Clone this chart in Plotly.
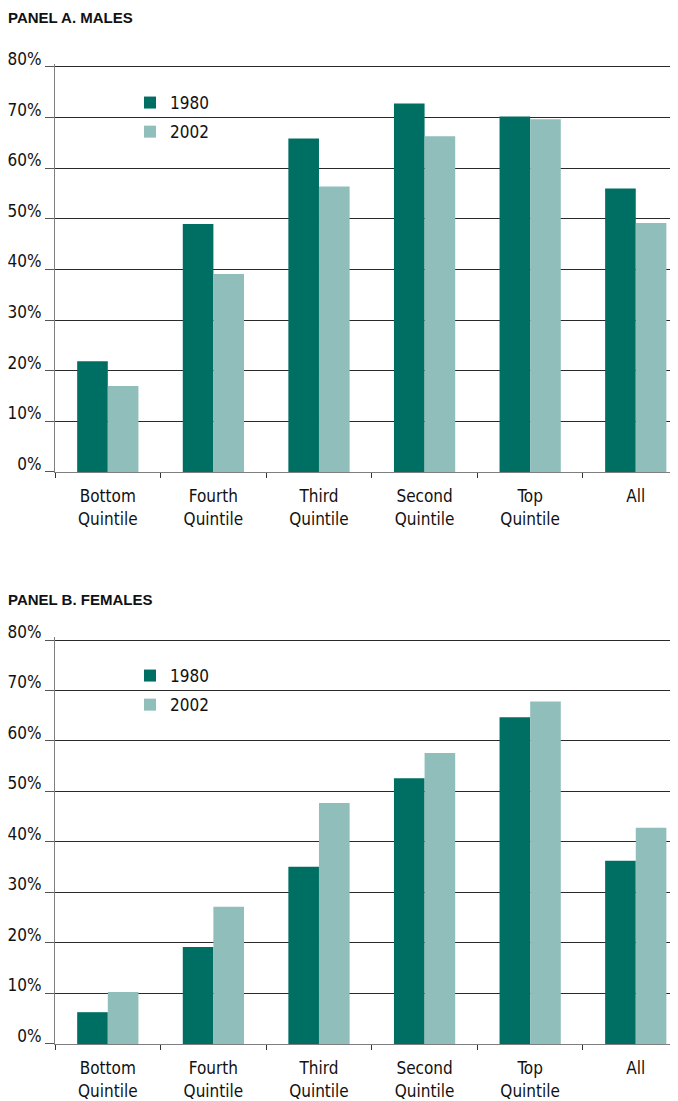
"""
Share by earnings quintile, 1980 vs 2002 (two panels)
"""
import plotly.graph_objects as go

# 数据
categories = ["Bottom<br>Quintile", "Fourth<br>Quintile", "Third<br>Quintile",
              "Second<br>Quintile", "Top<br>Quintile", "All"]
years = ["1980", "2002"]

males_1980 = [21.9, 49.0, 65.9, 72.8, 70.2, 56.0]
males_2002 = [17.0, 39.1, 56.4, 66.3, 69.7, 49.2]
females_1980 = [6.3, 19.2, 35.1, 52.6, 64.7, 36.3]
females_2002 = [10.3, 27.2, 47.7, 57.6, 67.8, 42.8]

panel_titles = ["PANEL A. MALES", "PANEL B. FEMALES"]

colors = {"1980": "#006F63", "2002": "#8FBEBB"}
FONT = "DejaVu Sans Condensed, Liberation Sans Narrow, sans-serif"

# the page body has an 8px margin, so the figure is shrunk and shifted by it
OFF = 8
W, H = 678 - OFF, 1101 - OFF

Y_TOP = 80.5  # a little headroom so the 80% gridline is drawn


def px_x(p):
    return (p - OFF) / W


def px_y(p):
    return 1 - (p - OFF) / H


def y_domain(p80, p0):
    # stretch the pixel span of 0..80 to 0..Y_TOP
    top = p0 - (p0 - p80) * Y_TOP / 80
    return [px_y(p0), px_y(top)]


fig = go.Figure()

panels = [
    (males_1980, males_2002, "x", "y", "legend", "a"),
    (females_1980, females_2002, "x2", "y2", "legend2", "b"),
]
for v80, v02, xa, ya, lg, tag in panels:
    for yr, vals in zip(years, [v80, v02]):
        fig.add_trace(go.Bar(
            x=categories, y=vals, name=yr,
            marker_color=colors[yr], marker_line_width=0,
            xaxis=xa, yaxis=ya, legend=lg, legendgroup=tag + yr,
            hoverinfo="x+y+name",
        ))

axis_common = dict(
    type="category",
    range=[-0.5, 5.4],
    domain=[px_x(55), 1.0],
    automargin=False,
    showline=True, linecolor="#7f7f7f", linewidth=1,
    ticks="outside", tickson="boundaries", ticklen=5, tickcolor="#333",
    ticklabelstandoff=9,
    showgrid=False,
    tickfont=dict(family=FONT, size=17, color="#111"),
)
yaxis_common = dict(
    range=[0, Y_TOP], tick0=0, dtick=10,
    ticksuffix="%",
    automargin=False,
    showline=True, linecolor="#7f7f7f", linewidth=1,
    ticks="outside", ticklen=9, tickcolor="#555",
    showgrid=True, gridcolor="#2a2a2a", gridwidth=1.2,
    zeroline=False,
    ticklabelshift=-8,
    tickfont=dict(family=FONT, size=17, color="#111"),
)

legend_common = dict(
    xanchor="left", yanchor="top", bgcolor="rgba(0,0,0,0)",
    font=dict(family=FONT, size=17, color="#111"),
    tracegroupgap=4, itemwidth=30,
)

fig.update_layout(
    width=W, height=H,
    margin=dict(l=0, r=0, t=0, b=0),
    plot_bgcolor="white", paper_bgcolor="white",
    barmode="group", bargap=0.42, bargroupgap=0,
    xaxis=dict(axis_common, anchor="y"),
    yaxis=dict(yaxis_common, domain=y_domain(67, 472), anchor="x"),
    xaxis2=dict(axis_common, anchor="y2"),
    yaxis2=dict(yaxis_common, domain=y_domain(640, 1044), anchor="x2"),
    legend=dict(legend_common, x=px_x(130), y=px_y(85)),
    legend2=dict(legend_common, x=px_x(130), y=px_y(658)),
    showlegend=True,
)

for title, ypx in zip(panel_titles, [18, 599]):
    fig.add_annotation(
        text=f"<b>{title}</b>", xref="paper", yref="paper",
        x=px_x(8), y=px_y(ypx), xanchor="left", yanchor="middle",
        showarrow=False, xshift=-2,
        font=dict(family="Liberation Sans, Arial, sans-serif", size=15, color="#111"),
    )

fig.write_html("out.html")
